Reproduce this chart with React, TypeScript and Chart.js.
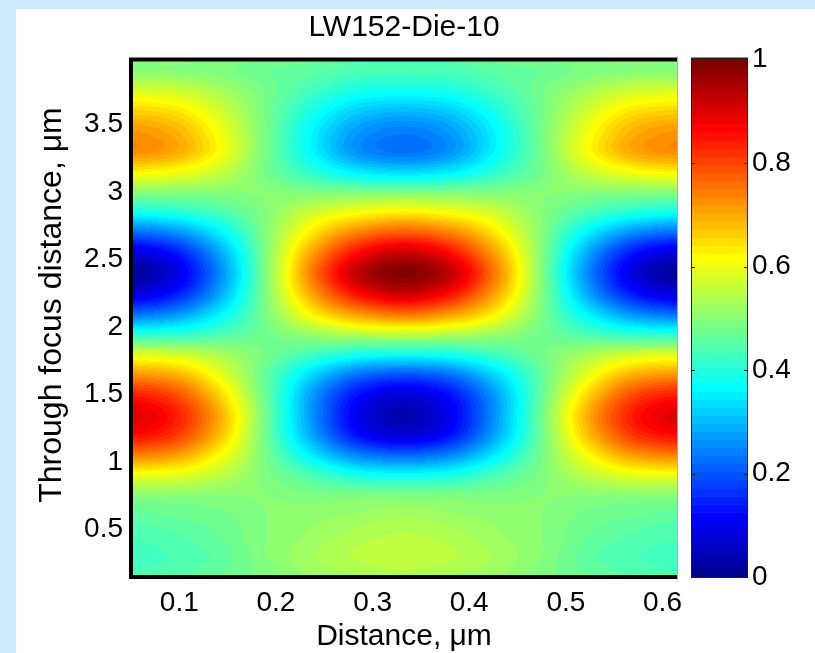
import { useEffect, useRef } from 'react';
import { Chart, registerables } from 'chart.js';

Chart.register(...registerables);
Chart.defaults.font.family = '"Liberation Sans", Arial, Helvetica, sans-serif';
Chart.defaults.color = '#000';

// Plot title and axis labels
const TITLE = 'LW152-Die-10';
const X_LABEL = 'Distance, μm';
const Y_LABEL = 'Through focus distance, μm';

// Axis limits and tick values
const X_RANGE = [0.05, 0.615];
const Y_RANGE = [0.15, 3.98];
const X_TICKS = [0.1, 0.2, 0.3, 0.4, 0.5, 0.6];
const Y_TICKS = [0.5, 1, 1.5, 2, 2.5, 3, 3.5];
const C_TICKS = [0, 0.2, 0.4, 0.6, 0.8, 1];

// Sample positions of the intensity map (distance across, µm / through focus, µm)
const X_NODES = [0.05, 0.097, 0.144, 0.191, 0.238, 0.285, 0.3325, 0.379, 0.426, 0.474, 0.521, 0.568, 0.615];
const Z_NODES = [
  0.15, 0.3, 0.45, 0.6, 0.75, 0.9, 1.05, 1.2, 1.35, 1.5, 1.65, 1.8, 1.95, 2.1,
  2.25, 2.4, 2.55, 2.7, 2.85, 3.0, 3.15, 3.3, 3.45, 3.6, 3.75, 3.9, 4.05,
];

// Normalised intensity, one row per Z_NODES entry (bottom to top), one column per X_NODES entry
const INTENSITY = [
  [0.44, 0.45, 0.47, 0.49, 0.52, 0.53, 0.54, 0.53, 0.52, 0.49, 0.47, 0.45, 0.44],
  [0.43, 0.44, 0.46, 0.50, 0.53, 0.55, 0.56, 0.55, 0.53, 0.50, 0.46, 0.44, 0.43],
  [0.44, 0.45, 0.47, 0.50, 0.52, 0.54, 0.55, 0.54, 0.52, 0.50, 0.47, 0.45, 0.44],
  [0.46, 0.47, 0.48, 0.50, 0.51, 0.52, 0.53, 0.52, 0.51, 0.50, 0.48, 0.47, 0.46],
  [0.50, 0.50, 0.50, 0.50, 0.49, 0.49, 0.49, 0.49, 0.49, 0.50, 0.50, 0.50, 0.50],
  [0.60, 0.59, 0.55, 0.49, 0.44, 0.39, 0.38, 0.39, 0.44, 0.49, 0.55, 0.59, 0.60],
  [0.74, 0.71, 0.61, 0.48, 0.35, 0.25, 0.22, 0.25, 0.35, 0.48, 0.61, 0.71, 0.74],
  [0.86, 0.81, 0.67, 0.47, 0.28, 0.13, 0.08, 0.13, 0.28, 0.47, 0.67, 0.81, 0.86],
  [0.90, 0.84, 0.69, 0.47, 0.26, 0.10, 0.04, 0.10, 0.26, 0.47, 0.69, 0.84, 0.90],
  [0.84, 0.79, 0.65, 0.46, 0.27, 0.13, 0.08, 0.13, 0.27, 0.46, 0.65, 0.79, 0.84],
  [0.72, 0.69, 0.59, 0.46, 0.33, 0.23, 0.20, 0.23, 0.33, 0.46, 0.59, 0.69, 0.72],
  [0.58, 0.57, 0.53, 0.48, 0.43, 0.39, 0.38, 0.39, 0.43, 0.48, 0.53, 0.57, 0.58],
  [0.40, 0.41, 0.44, 0.48, 0.52, 0.55, 0.56, 0.55, 0.52, 0.48, 0.44, 0.41, 0.40],
  [0.22, 0.26, 0.36, 0.49, 0.63, 0.72, 0.76, 0.72, 0.63, 0.49, 0.36, 0.26, 0.22],
  [0.08, 0.14, 0.29, 0.50, 0.71, 0.86, 0.92, 0.86, 0.71, 0.50, 0.29, 0.14, 0.08],
  [0.02, 0.09, 0.26, 0.50, 0.75, 0.93, 0.99, 0.93, 0.75, 0.50, 0.26, 0.09, 0.02],
  [0.08, 0.14, 0.29, 0.50, 0.71, 0.86, 0.92, 0.86, 0.71, 0.50, 0.29, 0.14, 0.08],
  [0.22, 0.26, 0.36, 0.50, 0.64, 0.74, 0.78, 0.74, 0.64, 0.50, 0.36, 0.26, 0.22],
  [0.38, 0.40, 0.44, 0.50, 0.57, 0.61, 0.63, 0.61, 0.57, 0.50, 0.44, 0.40, 0.38],
  [0.50, 0.50, 0.50, 0.50, 0.49, 0.49, 0.49, 0.49, 0.49, 0.50, 0.50, 0.50, 0.50],
  [0.63, 0.61, 0.56, 0.48, 0.41, 0.35, 0.33, 0.35, 0.41, 0.48, 0.56, 0.61, 0.63],
  [0.73, 0.70, 0.61, 0.48, 0.36, 0.26, 0.23, 0.26, 0.36, 0.48, 0.61, 0.70, 0.73],
  [0.72, 0.69, 0.60, 0.48, 0.36, 0.27, 0.24, 0.27, 0.36, 0.48, 0.60, 0.69, 0.72],
  [0.66, 0.64, 0.57, 0.48, 0.39, 0.32, 0.30, 0.32, 0.39, 0.48, 0.57, 0.64, 0.66],
  [0.58, 0.57, 0.53, 0.48, 0.43, 0.39, 0.38, 0.39, 0.43, 0.48, 0.53, 0.57, 0.58],
  [0.50, 0.50, 0.49, 0.47, 0.46, 0.44, 0.44, 0.44, 0.46, 0.47, 0.49, 0.50, 0.50],
  [0.52, 0.52, 0.51, 0.49, 0.48, 0.46, 0.46, 0.46, 0.48, 0.49, 0.51, 0.52, 0.52],
];

const LEVELS = 64;

// Classic "jet" colour map with m entries, as [r, g, b] in 0..1
function jetColormap(m: number): number[][] {
  const n = Math.ceil(m / 4);
  const u: number[] = [];
  for (let i = 1; i <= n; i++) u.push(i / n);
  for (let i = 1; i < n; i++) u.push(1);
  for (let i = n; i >= 1; i--) u.push(i / n);
  const g0 = Math.ceil(n / 2) - (m % 4 === 1 ? 1 : 0);
  const map = Array.from({ length: m }, () => [0, 0, 0]);
  for (let k = 0; k < u.length; k++) {
    const g = g0 + k + 1;
    const r = g + n;
    const b = g - n;
    if (r >= 1 && r <= m) map[r - 1][0] = u[k];
    if (g >= 1 && g <= m) map[g - 1][1] = u[k];
    if (b >= 1 && b <= m) map[b - 1][2] = u[k];
  }
  return map;
}
const JET = jetColormap(LEVELS);

const clamp = (v: number, lo: number, hi: number) => Math.max(lo, Math.min(hi, v));

function levelIndex(v: number) {
  return clamp(Math.floor(v * LEVELS), 0, LEVELS - 1);
}

function jetCss(v: number) {
  const c = JET[levelIndex(v)];
  return `rgb(${Math.round(c[0] * 255)},${Math.round(c[1] * 255)},${Math.round(c[2] * 255)})`;
}

function locate(nodes: number[], v: number): [number, number] {
  let i = 0;
  while (i < nodes.length - 2 && v > nodes[i + 1]) i++;
  const t = (v - nodes[i]) / (nodes[i + 1] - nodes[i]);
  return [i, clamp(t, 0, 1)];
}

function cubic(p0: number, p1: number, p2: number, p3: number, t: number) {
  return p1 + 0.5 * t * (p2 - p0 + t * (2 * p0 - 5 * p1 + 4 * p2 - p3 + t * (3 * (p1 - p2) + p3 - p0)));
}

// Smooth (Catmull-Rom) lookup of the intensity table at an arbitrary position
function sampleIntensity(x: number, z: number) {
  const nx = X_NODES.length;
  const nz = Z_NODES.length;
  const [i, tx] = locate(X_NODES, x);
  const [j, tz] = locate(Z_NODES, z);
  const col: number[] = [];
  for (let dj = -1; dj <= 2; dj++) {
    const row = INTENSITY[clamp(j + dj, 0, nz - 1)];
    const at = (k: number) => row[clamp(i + k, 0, nx - 1)];
    col.push(cubic(at(-1), at(0), at(1), at(2), tx));
  }
  return cubic(col[0], col[1], col[2], col[3], tz);
}

const heatmapPlugin = {
  id: 'intensityMap',
  beforeDatasetsDraw(chart: any) {
    const { ctx, chartArea: a, scales } = chart;
    const xs = scales.x;
    const ys = scales.y;
    const left = Math.round(a.left);
    const top = Math.round(a.top);
    const w = Math.round(a.right) - left;
    const h = Math.round(a.bottom) - top;
    const off = document.createElement('canvas');
    off.width = w;
    off.height = h;
    const octx = off.getContext('2d')!;
    const img = octx.createImageData(w, h);
    const xv: number[] = [];
    for (let px = 0; px < w; px++) xv.push(xs.getValueForPixel(left + px + 0.5));
    for (let py = 0; py < h; py++) {
      const z = ys.getValueForPixel(top + py + 0.5);
      for (let px = 0; px < w; px++) {
        const c = JET[levelIndex(sampleIntensity(xv[px], z))];
        const o = (py * w + px) * 4;
        img.data[o] = Math.round(c[0] * 255);
        img.data[o + 1] = Math.round(c[1] * 255);
        img.data[o + 2] = Math.round(c[2] * 255);
        img.data[o + 3] = 255;
      }
    }
    octx.putImageData(img, 0, 0);
    ctx.save();
    ctx.imageSmoothingEnabled = false;
    ctx.drawImage(off, left, top);
    ctx.restore();
  },
  afterDraw(chart: any) {
    const { ctx, chartArea: a, scales } = chart;

    // axes frame: heavy black on left, top and bottom, light edge on the right
    ctx.save();
    ctx.strokeStyle = '#b0b0b0';
    ctx.lineWidth = 1;
    ctx.beginPath();
    ctx.moveTo(a.right + 0.5, a.top - 3);
    ctx.lineTo(a.right + 0.5, a.bottom + 3);
    ctx.stroke();
    ctx.strokeStyle = '#000';
    ctx.lineWidth = 4;
    ctx.lineJoin = 'miter';
    ctx.beginPath();
    ctx.moveTo(a.right, a.top);
    ctx.lineTo(a.left, a.top);
    ctx.lineTo(a.left, a.bottom);
    ctx.lineTo(a.right, a.bottom);
    ctx.stroke();
    ctx.restore();

    // colour bar on the right-hand scale
    const cs = scales.c;
    const cbLeft = Math.round(a.right) + 14;
    const cbWidth = 57;
    const yTop = cs.getPixelForValue(1) - 2;
    const yBot = cs.getPixelForValue(0);
    ctx.save();
    for (let k = 0; k < LEVELS; k++) {
      const y0 = k === 0 ? yBot : cs.getPixelForValue(k / LEVELS);
      const y1 = k === LEVELS - 1 ? yTop : cs.getPixelForValue((k + 1) / LEVELS);
      ctx.fillStyle = jetCss((k + 0.5) / LEVELS);
      ctx.fillRect(cbLeft, y1, cbWidth, y0 - y1 + 0.6);
    }
    ctx.strokeStyle = '#222';
    ctx.lineWidth = 1;
    ctx.strokeRect(cbLeft + 0.5, Math.round(yTop) + 0.5, cbWidth - 1, Math.round(yBot - yTop) - 1);
    ctx.beginPath();
    C_TICKS.forEach((v) => {
      if (v === 0 || v === 1) return;
      const y = Math.round(cs.getPixelForValue(v)) + 0.5;
      ctx.moveTo(cbLeft, y);
      ctx.lineTo(cbLeft + 4, y);
      ctx.moveTo(cbLeft + cbWidth - 4, y);
      ctx.lineTo(cbLeft + cbWidth, y);
    });
    ctx.stroke();
    ctx.restore();

    // vertical axis title
    ctx.save();
    ctx.translate(52, 305);
    ctx.rotate(-Math.PI / 2);
    ctx.fillStyle = '#000';
    ctx.font = '32px "Liberation Sans", Arial, sans-serif';
    ctx.textAlign = 'center';
    ctx.textBaseline = 'middle';
    ctx.fillText(Y_LABEL, 0, 0);
    ctx.restore();
  },
};

const tickFont = { size: 28 };
const label = (v: number | string) => String(v);

// Fix an axis box size and drop the label overhang padding so the plot area stays put
const fixBox = (size: { width?: number; height?: number }) => (s: any) => {
  if (size.width !== undefined) s.width = size.width;
  if (size.height !== undefined) s.height = size.height;
  s.paddingTop = 0;
  s.paddingBottom = 0;
  s.paddingLeft = 0;
  s.paddingRight = 0;
};

export default function App() {
  const canvasRef = useRef<HTMLCanvasElement>(null);

  useEffect(() => {
    const chart = new Chart(canvasRef.current!, {
      type: 'scatter',
      data: { datasets: [] },
      plugins: [heatmapPlugin],
      options: {
        responsive: false,
        animation: false,
        events: [],
        layout: { padding: 0 },
        plugins: {
          legend: { display: false },
          tooltip: { enabled: false },
          title: {
            display: true,
            fullSize: false,
            text: TITLE,
            color: '#000',
            font: { size: 30, weight: 'normal' },
            padding: { top: 10, bottom: 13.5 },
          },
        },
        scales: {
          x: {
            type: 'linear',
            position: 'bottom',
            min: X_RANGE[0],
            max: X_RANGE[1],
            grid: { display: false, drawTicks: false },
            border: { display: false },
            ticks: { font: tickFont, padding: 9, maxRotation: 0, callback: label },
            afterBuildTicks: (s: any) => {
              s.ticks = X_TICKS.map((value) => ({ value }));
            },
            title: {
              display: true,
              text: X_LABEL,
              color: '#000',
              font: { size: 30, lineHeight: 1 },
              padding: { top: 0, bottom: 1 },
            },
            afterFit: fixBox({ height: 76 }),
          },
          y: {
            type: 'linear',
            position: 'left',
            min: Y_RANGE[0],
            max: Y_RANGE[1],
            grid: { display: false, drawTicks: false },
            border: { display: false },
            ticks: { font: tickFont, padding: 8, callback: label },
            afterBuildTicks: (s: any) => {
              s.ticks = Y_TICKS.map((value) => ({ value }));
            },
            afterFit: fixBox({ width: 131 }),
          },
          c: {
            type: 'linear',
            position: 'right',
            min: 0,
            max: 1,
            grid: { display: false, drawTicks: false },
            border: { display: false },
            ticks: { font: tickFont, padding: 75, callback: label },
            afterBuildTicks: (s: any) => {
              s.ticks = C_TICKS.map((value) => ({ value }));
            },
            afterFit: fixBox({ width: 138 }),
          },
        },
      } as any,
    });
    return () => chart.destroy();
  }, []);

  return (
    <div
      style={{
        position: 'absolute',
        left: 0,
        top: 0,
        width: 815,
        height: 653,
        background: '#cde9fc',
        overflow: 'hidden',
      }}
    >
      <div style={{ position: 'absolute', left: 16, top: 9, right: 0, bottom: 0, background: '#fff' }} />
      <canvas
        ref={canvasRef}
        width={815}
        height={653}
        style={{ position: 'absolute', left: 0, top: 0, width: 815, height: 653 }}
      />
    </div>
  );
}
